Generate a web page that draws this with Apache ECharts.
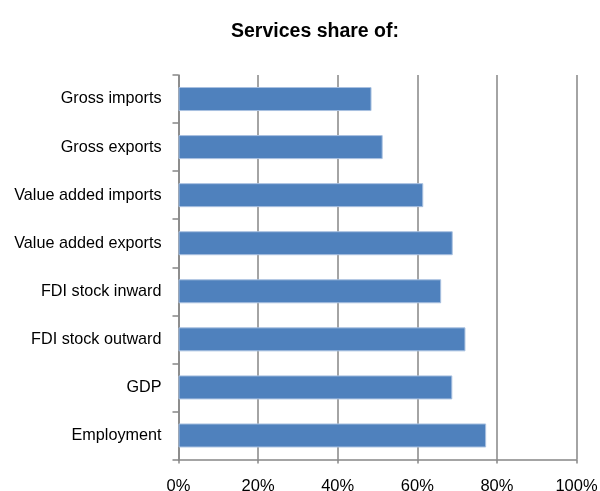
<!DOCTYPE html>
<html>
<head>
<meta charset="utf-8">
<script src="https://cdn.jsdelivr.net/npm/echarts@6/dist/echarts.min.js"></script>
<style>
html,body{margin:0;padding:0;background:#fff;}
#chart{width:600px;height:491px;}
</style>
</head>
<body>
<div id="chart"></div>
<script>
var categories = ["Gross imports","Gross exports","Value added imports","Value added exports","FDI stock inward","FDI stock outward","GDP","Employment"];
var values = [48.5, 51.3, 61.5, 68.9, 66.0, 72.1, 68.8, 77.3];
var xTicks = [0, 20, 40, 60, 80, 100];
var titleText = "Services share of:";

var chart = echarts.init(document.getElementById('chart'), null, {renderer:'canvas'});
var font = "'Liberation Sans', Arial, sans-serif";
chart.setOption({
  animation: false,
  backgroundColor: '#ffffff',
  title: {
    text: titleText,
    left: 310, top: 17,
    textAlign: 'center',
    textStyle: {fontFamily: font, fontWeight: 'bold', fontSize: 19.5, color: '#000'}
  },
  grid: {left: 178.5, right: 23.5, top: 75, bottom: 31.5, containLabel: false, outerBoundsMode: 'none'},
  xAxis: {
    type: 'value',
    min: xTicks[0], max: xTicks[xTicks.length-1], interval: 20,
    axisLine: {show: true, lineStyle: {color: '#868686', width: 1.5}},
    axisTick: {show: true, length: 4, lineStyle: {color: '#868686', width: 1.5}},
    splitLine: {show: true, lineStyle: {color: '#868686', width: 1.5}},
    axisLabel: {formatter: '{value}%', margin: 18, fontFamily: font, fontSize: 16.5, color: '#000'}
  },
  yAxis: {
    type: 'category',
    data: categories,
    inverse: true,
    axisLine: {show: true, lineStyle: {color: '#868686', width: 1.5}},
    axisTick: {show: true, length: 6, lineStyle: {color: '#868686', width: 1.5}},
    splitLine: {show: false},
    axisLabel: {margin: 17, fontFamily: font, fontSize: 16.2, color: '#000'}
  },
  series: [{
    type: 'bar',
    data: values,
    barWidth: 24,
    itemStyle: {color: '#4F81BD', borderColor: '#A9C1E0', borderWidth: 1}
  }]
});
</script>
</body>
</html>
